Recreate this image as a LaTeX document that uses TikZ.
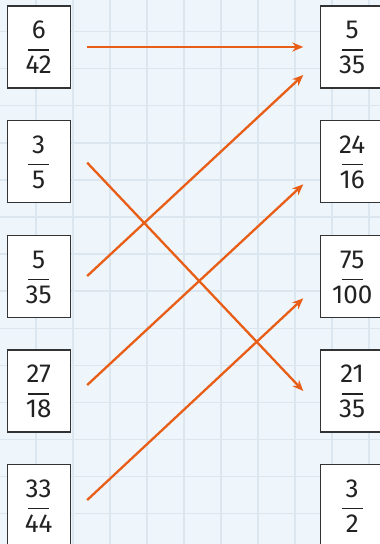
\documentclass[tikz,border=0pt]{standalone}
\usepackage{fontspec}
\setmainfont{Fira Sans}
\usetikzlibrary{arrows.meta,calc}
\definecolor{bgc}{HTML}{EEF5FB}
\definecolor{gridc}{HTML}{DCE6EF}
\definecolor{arrc}{HTML}{E85E16}
\definecolor{inkc}{HTML}{222222}
\definecolor{boxc}{HTML}{333333}
\tikzset{
  fbox/.style={draw=boxc, line width=1.4pt, fill=white, minimum width=63pt, minimum height=82pt, inner sep=0pt},
  digits/.style={anchor=base, inner sep=0pt, text=inkc, font=\fontsize{26}{30}\selectfont},
  fbar/.style={draw=inkc, line width=1.5pt},
  link/.style={draw=arrc, line width=2.3pt, -{Stealth[length=11pt,width=9pt]}},
  gridline/.style={draw=gridc, line width=1.4pt}
}
\newcommand\fracbox[5]{%
  \node[fbox] (#1) at (#2,#3+41) {};
  \node[digits] (#1n) at (#2,#3+32.5) {#4};
  \node[digits] (#1d) at (#2,#3+67.5) {#5};
  \draw[fbar] (#2-10.7,#3+44) -- (#2+10.7,#3+44);
}
\begin{document}
\begin{tikzpicture}[x=1pt,y=-1pt]
\useasboundingbox (0,0) rectangle (380,544);
\clip (0,0) rectangle (380,544);
\fill[bgc] (0,0) rectangle (380,544);
\foreach \i in {1,...,10} {\draw[gridline] (-1+37*\i,0) -- (-1+37*\i,544);}
\foreach \j in {1,...,14} {\draw[gridline] (0,-5.5+37.08*\j) -- (380,-5.5+37.08*\j);}
% left boxes
\fracbox{L1}{38.7}{6}{6}{42}
\fracbox{L2}{38.7}{120.7}{3}{5}
\fracbox{L3}{38.7}{235.5}{5}{35}
\fracbox{L4}{38.7}{350}{27}{18}
\fracbox{L5}{38.7}{464.5}{33}{44}
% right boxes
\fracbox{R1}{352.2}{6}{5}{35}
\fracbox{R2}{352.2}{120.7}{24}{16}
\fracbox{R3}{352.2}{235.5}{75}{100}
\fracbox{R4}{352.2}{350}{21}{35}
\fracbox{R5}{352.2}{464.5}{3}{2}
% connectors
\draw[link] ($(L1.east)+(16.3,0)$) -- ($(R1.west)+(-16.7,0)$);
\draw[link] ($(L2.east)+(16.3,1)$) -- ($(R4.west)+(-16.7,0)$);
\draw[link] ($(L3.east)+(16.3,-0.5)$) -- ($(R1.west)+(-16.7,28)$);
\draw[link] ($(L4.east)+(16.3,-6)$) -- ($(R2.west)+(-16.7,22.6)$);
\draw[link] ($(L5.east)+(16.3,-5.5)$) -- ($(R3.west)+(-16.7,21.8)$);
\end{tikzpicture}
\end{document}
